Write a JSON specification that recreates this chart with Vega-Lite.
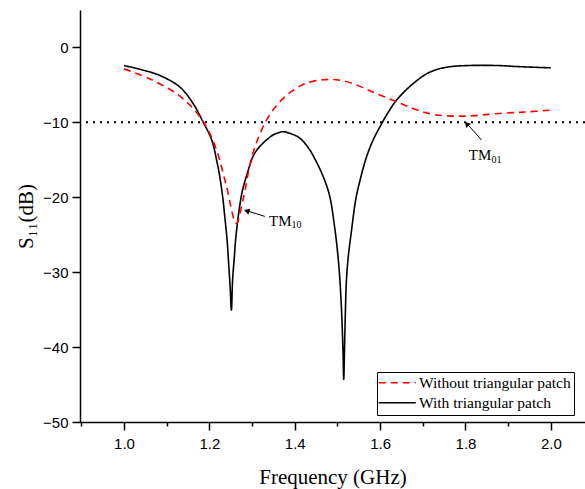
{
  "$schema": "https://vega.github.io/schema/vega-lite/v6.json",
  "width": 505,
  "height": 412,
  "autosize": {"type": "none"},
  "padding": {"left": 80, "top": 10, "right": 0, "bottom": 67},
  "background": "white",
  "config": {
    "view": {"stroke": null},
    "axis": {
      "domainColor": "black",
      "domainWidth": 1.5,
      "tickColor": "black",
      "tickWidth": 1.5,
      "grid": false,
      "labelFont": "Liberation Sans",
      "labelFontSize": 15,
      "labelColor": "black",
      "titleFont": "Liberation Serif",
      "titleFontSize": 21,
      "titleFontWeight": "normal",
      "titleColor": "black"
    },
    "legend": {
      "labelFont": "Liberation Serif",
      "labelFontSize": 15.5,
      "labelColor": "black"
    }
  },
  "datasets": {
    "curves": [
      {"f": 1.0, "s11": -2.42, "series": "With triangular patch"},
      {"f": 1.04, "s11": -2.95, "series": "With triangular patch"},
      {"f": 1.084, "s11": -3.74, "series": "With triangular patch"},
      {"f": 1.131, "s11": -5.29, "series": "With triangular patch"},
      {"f": 1.162, "s11": -7.49, "series": "With triangular patch"},
      {"f": 1.1851, "s11": -9.92, "series": "With triangular patch"},
      {"f": 1.2008, "s11": -11.68, "series": "With triangular patch"},
      {"f": 1.2086, "s11": -12.9, "series": "With triangular patch"},
      {"f": 1.2165, "s11": -14.9, "series": "With triangular patch"},
      {"f": 1.2243, "s11": -17.2, "series": "With triangular patch"},
      {"f": 1.232, "s11": -20.3, "series": "With triangular patch"},
      {"f": 1.236, "s11": -22.5, "series": "With triangular patch"},
      {"f": 1.2414, "s11": -25.6, "series": "With triangular patch"},
      {"f": 1.2453, "s11": -28.9, "series": "With triangular patch"},
      {"f": 1.2489, "s11": -32.2, "series": "With triangular patch"},
      {"f": 1.2517, "s11": -35.05, "series": "With triangular patch"},
      {"f": 1.2545, "s11": -31.0, "series": "With triangular patch"},
      {"f": 1.2585, "s11": -28.0, "series": "With triangular patch"},
      {"f": 1.2617, "s11": -25.57, "series": "With triangular patch"},
      {"f": 1.2711, "s11": -21.16, "series": "With triangular patch"},
      {"f": 1.2781, "s11": -18.95, "series": "With triangular patch"},
      {"f": 1.2868, "s11": -17.19, "series": "With triangular patch"},
      {"f": 1.2945, "s11": -15.78, "series": "With triangular patch"},
      {"f": 1.3023, "s11": -14.55, "series": "With triangular patch"},
      {"f": 1.3133, "s11": -13.53, "series": "With triangular patch"},
      {"f": 1.3257, "s11": -12.78, "series": "With triangular patch"},
      {"f": 1.3367, "s11": -12.21, "series": "With triangular patch"},
      {"f": 1.3492, "s11": -11.68, "series": "With triangular patch"},
      {"f": 1.3602, "s11": -11.42, "series": "With triangular patch"},
      {"f": 1.3726, "s11": -11.25, "series": "With triangular patch"},
      {"f": 1.3883, "s11": -11.46, "series": "With triangular patch"},
      {"f": 1.4117, "s11": -12.09, "series": "With triangular patch"},
      {"f": 1.4351, "s11": -13.66, "series": "With triangular patch"},
      {"f": 1.4469, "s11": -14.85, "series": "With triangular patch"},
      {"f": 1.4586, "s11": -16.18, "series": "With triangular patch"},
      {"f": 1.4703, "s11": -17.76, "series": "With triangular patch"},
      {"f": 1.4821, "s11": -19.88, "series": "With triangular patch"},
      {"f": 1.4938, "s11": -24.11, "series": "With triangular patch"},
      {"f": 1.5008, "s11": -27.55, "series": "With triangular patch"},
      {"f": 1.5056, "s11": -30.86, "series": "With triangular patch"},
      {"f": 1.5103, "s11": -35.88, "series": "With triangular patch"},
      {"f": 1.5132, "s11": -40.78, "series": "With triangular patch"},
      {"f": 1.5148, "s11": -44.31, "series": "With triangular patch"},
      {"f": 1.5167, "s11": -40.12, "series": "With triangular patch"},
      {"f": 1.5183, "s11": -36.15, "series": "With triangular patch"},
      {"f": 1.5211, "s11": -31.13, "series": "With triangular patch"},
      {"f": 1.5254, "s11": -27.95, "series": "With triangular patch"},
      {"f": 1.5329, "s11": -24.51, "series": "With triangular patch"},
      {"f": 1.5429, "s11": -20.3, "series": "With triangular patch"},
      {"f": 1.5523, "s11": -17.89, "series": "With triangular patch"},
      {"f": 1.568, "s11": -14.65, "series": "With triangular patch"},
      {"f": 1.5828, "s11": -12.47, "series": "With triangular patch"},
      {"f": 1.5992, "s11": -10.63, "series": "With triangular patch"},
      {"f": 1.618, "s11": -8.76, "series": "With triangular patch"},
      {"f": 1.6383, "s11": -7.05, "series": "With triangular patch"},
      {"f": 1.677, "s11": -4.84, "series": "With triangular patch"},
      {"f": 1.716, "s11": -3.31, "series": "With triangular patch"},
      {"f": 1.755, "s11": -2.65, "series": "With triangular patch"},
      {"f": 1.802, "s11": -2.42, "series": "With triangular patch"},
      {"f": 1.88, "s11": -2.42, "series": "With triangular patch"},
      {"f": 1.92, "s11": -2.55, "series": "With triangular patch"},
      {"f": 2.0, "s11": -2.72, "series": "With triangular patch"},
      {"f": 1.0, "s11": -2.86, "series": "Without triangular patch"},
      {"f": 1.06, "s11": -4.18, "series": "Without triangular patch"},
      {"f": 1.123, "s11": -6.16, "series": "Without triangular patch"},
      {"f": 1.162, "s11": -8.15, "series": "Without triangular patch"},
      {"f": 1.193, "s11": -10.6, "series": "Without triangular patch"},
      {"f": 1.217, "s11": -13.7, "series": "Without triangular patch"},
      {"f": 1.24, "s11": -18.5, "series": "Without triangular patch"},
      {"f": 1.263, "s11": -23.5, "series": "Without triangular patch"},
      {"f": 1.279, "s11": -20.3, "series": "Without triangular patch"},
      {"f": 1.302, "s11": -14.1, "series": "Without triangular patch"},
      {"f": 1.334, "s11": -9.7, "series": "Without triangular patch"},
      {"f": 1.365, "s11": -7.28, "series": "Without triangular patch"},
      {"f": 1.396, "s11": -5.73, "series": "Without triangular patch"},
      {"f": 1.427, "s11": -4.76, "series": "Without triangular patch"},
      {"f": 1.466, "s11": -4.31, "series": "Without triangular patch"},
      {"f": 1.498, "s11": -4.31, "series": "Without triangular patch"},
      {"f": 1.537, "s11": -4.84, "series": "Without triangular patch"},
      {"f": 1.583, "s11": -5.95, "series": "Without triangular patch"},
      {"f": 1.63, "s11": -7.05, "series": "Without triangular patch"},
      {"f": 1.677, "s11": -8.15, "series": "Without triangular patch"},
      {"f": 1.724, "s11": -8.94, "series": "Without triangular patch"},
      {"f": 1.771, "s11": -9.17, "series": "Without triangular patch"},
      {"f": 1.802, "s11": -9.17, "series": "Without triangular patch"},
      {"f": 1.88, "s11": -8.81, "series": "Without triangular patch"},
      {"f": 1.943, "s11": -8.6, "series": "Without triangular patch"},
      {"f": 2.0, "s11": -8.37, "series": "Without triangular patch"}
    ],
    "arrows": [
      {"x": 1.3297, "y": -22.55, "x2": 1.2855, "y2": -21.75},
      {"x": 1.8375, "y": -12.35, "x2": 1.800, "y2": -9.95}
    ],
    "heads": [
      {"x": 1.2896, "y": -21.85, "angle": 287},
      {"x": 1.8045, "y": -10.3, "angle": 318}
    ],
    "mainlabels": [
      {"x": 1.3398, "y": -23.81, "t": "TM"},
      {"x": 1.8077, "y": -15.08, "t": "TM"}
    ],
    "sublabels": [
      {"x": 1.3923, "y": -24.15, "t": "10"},
      {"x": 1.8609, "y": -15.42, "t": "01"}
    ]
  },
  "layer": [
    {
      "data": {"values": [{"y": -10}]},
      "mark": {"type": "rule", "color": "black", "strokeWidth": 2, "strokeDash": [2, 5]},
      "encoding": {"y": {"field": "y", "type": "quantitative"}}
    },
    {
      "data": {"name": "curves"},
      "mark": {"type": "line", "interpolate": "catmull-rom", "strokeWidth": 1.6},
      "encoding": {
        "x": {
          "field": "f", "type": "quantitative",
          "scale": {"domain": [0.897, 2.08], "nice": false, "zero": false},
          "axis": {
            "title": "Frequency (GHz)",
            "values": [0.9, 1.0, 1.1, 1.2, 1.3, 1.4, 1.5, 1.6, 1.7, 1.8, 1.9, 2.0],
            "labelExpr": "round(datum.value*10) % 2 == 0 ? format(datum.value, '.1f') : ''",
            "tickSize": {"condition": {"test": "round(datum.value*10) % 2 == 0", "value": 8}, "value": 4},
            "labelPadding": 6,
            "titlePadding": 15,
            "labelFlush": false,
            "labelOverlap": false
          }
        },
        "y": {
          "field": "s11", "type": "quantitative",
          "scale": {"domain": [-50, 5], "nice": false},
          "axis": {
            "title": "S₁₁(dB)",
            "values": [5, 0, -5, -10, -15, -20, -25, -30, -35, -40, -45, -50],
            "labelExpr": "datum.value % 10 == 0 ? format(datum.value, 'd') : ''",
            "tickSize": {"condition": {"test": "datum.value % 10 == 0", "value": 8}, "value": 4},
            "labelPadding": 4,
            "titlePadding": 6,
            "labelFlush": false,
            "labelOverlap": false
          }
        },
        "color": {
          "field": "series", "type": "nominal",
          "scale": {"domain": ["Without triangular patch", "With triangular patch"], "range": ["#ff0000", "#000000"]},
          "legend": {
            "title": null,
            "orient": "none",
            "legendX": 297,
            "legendY": 362,
            "strokeColor": "black",
            "padding": 3,
            "rowPadding": 3,
            "symbolType": "M-3,0L3,0",
            "symbolSize": 152,
            "symbolStrokeWidth": 1.5,
            "symbolOffset": 9.5,
            "labelOffset": 14
          }
        },
        "strokeDash": {
          "field": "series", "type": "nominal",
          "scale": {"domain": ["Without triangular patch", "With triangular patch"], "range": [[7, 5], [1, 0]]},
          "legend": {
            "title": null,
            "orient": "none",
            "legendX": 297,
            "legendY": 362,
            "strokeColor": "black",
            "padding": 3,
            "rowPadding": 3,
            "symbolType": "M-3,0L3,0",
            "symbolSize": 152,
            "symbolStrokeWidth": 1.5,
            "symbolOffset": 9.5,
            "labelOffset": 14
          }
        }
      }
    },
    {
      "data": {"name": "arrows"},
      "mark": {"type": "rule", "color": "black", "strokeWidth": 1},
      "encoding": {
        "x": {"field": "x", "type": "quantitative"},
        "y": {"field": "y", "type": "quantitative"},
        "x2": {"field": "x2"},
        "y2": {"field": "y2"}
      }
    },
    {
      "data": {"name": "heads"},
      "mark": {"type": "point", "shape": "triangle", "filled": true, "color": "black", "size": 40, "opacity": 1},
      "encoding": {
        "x": {"field": "x", "type": "quantitative"},
        "y": {"field": "y", "type": "quantitative"},
        "angle": {"field": "angle", "type": "quantitative", "scale": null}
      }
    },
    {
      "data": {"name": "mainlabels"},
      "mark": {"type": "text", "font": "Liberation Serif", "fontSize": 15, "align": "left", "baseline": "alphabetic", "color": "black"},
      "encoding": {
        "x": {"field": "x", "type": "quantitative"},
        "y": {"field": "y", "type": "quantitative"},
        "text": {"field": "t"}
      }
    },
    {
      "data": {"name": "sublabels"},
      "mark": {"type": "text", "font": "Liberation Serif", "fontSize": 10, "align": "left", "baseline": "alphabetic", "color": "black"},
      "encoding": {
        "x": {"field": "x", "type": "quantitative"},
        "y": {"field": "y", "type": "quantitative"},
        "text": {"field": "t"}
      }
    }
  ]
}
